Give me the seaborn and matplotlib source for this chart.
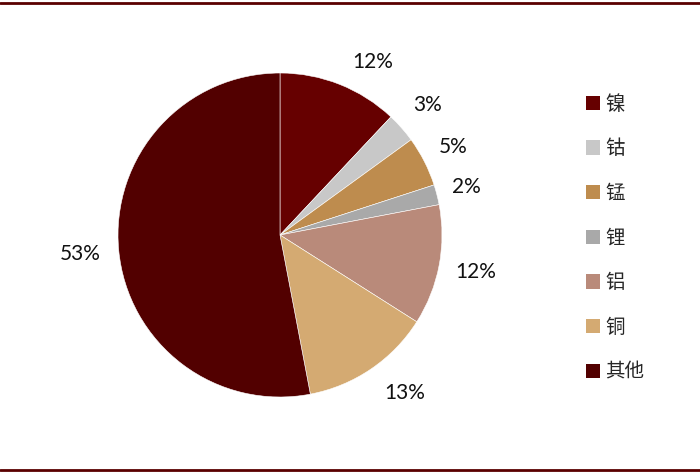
import matplotlib
matplotlib.use("Agg")
import numpy as np
import matplotlib.pyplot as plt
import seaborn as sns
from matplotlib.lines import Line2D
from matplotlib.patches import Patch

categories = ["镍", "钴", "锰", "锂", "铝", "铜", "其他"]
values = [12, 3, 5, 2, 12, 13, 53]
colors = ["#660000", "#C8C8C8", "#BE8C4E", "#A9A9A9", "#B98A7A", "#D4AA72", "#520000"]

sns.set_theme(style="white")
plt.rcParams['font.family'] = ['Lato', 'Noto Sans CJK SC', 'DejaVu Sans']

fig = plt.figure(figsize=(7.0, 4.74), dpi=100)
W, H = 700, 474
cx, cy, r = 280, 235, 162
ax = fig.add_axes([(cx - r) / W, 1 - (cy + r) / H, 2 * r / W, 2 * r / H])

wedges, texts, autotexts = ax.pie(
    values, colors=colors, startangle=90, counterclock=False,
    autopct=lambda p: f"{p:.0f}%", pctdistance=1.22,
    wedgeprops=dict(edgecolor="white", linewidth=0.4),
    textprops=dict(fontsize=15, color="#111111", family=['Lato', 'DejaVu Sans']))
ax.set_aspect("equal")
ax.set_xlim(-1, 1)
ax.set_ylim(-1, 1)

# small label nudges (degrees, clockwise) mimicking the original label placement
nudges = [6.5, 0, 0, 0, 0, -4, 0]
dists = [1.21, 1.21, 1.20, 1.19, 1.23, 1.24, 1.24]
for w, t, dn, d in zip(wedges, autotexts, nudges, dists):
    mid = np.deg2rad((w.theta1 + w.theta2) / 2 - dn)
    t.set_position((d * np.cos(mid), d * np.sin(mid)))
    t.set_ha("center")
    t.set_va("center")

handles = [Patch(facecolor=c, edgecolor="none") for c in colors]
leg = fig.legend(handles, categories, loc="upper left",
                 bbox_to_anchor=(568 / W, 1 - 76 / H), frameon=False,
                 prop=dict(family=['Noto Sans CJK SC', 'DejaVu Sans'], size=14),
                 handlelength=0.75, handleheight=0.75, handletextpad=0.25,
                 labelspacing=1.22)

for y in (2.5, 469.5):
    fig.add_artist(Line2D([0, 1], [1 - y / H, 1 - y / H], transform=fig.transFigure,
                          color="#5A0000", linewidth=2))

fig.savefig("out.png", dpi=100)
